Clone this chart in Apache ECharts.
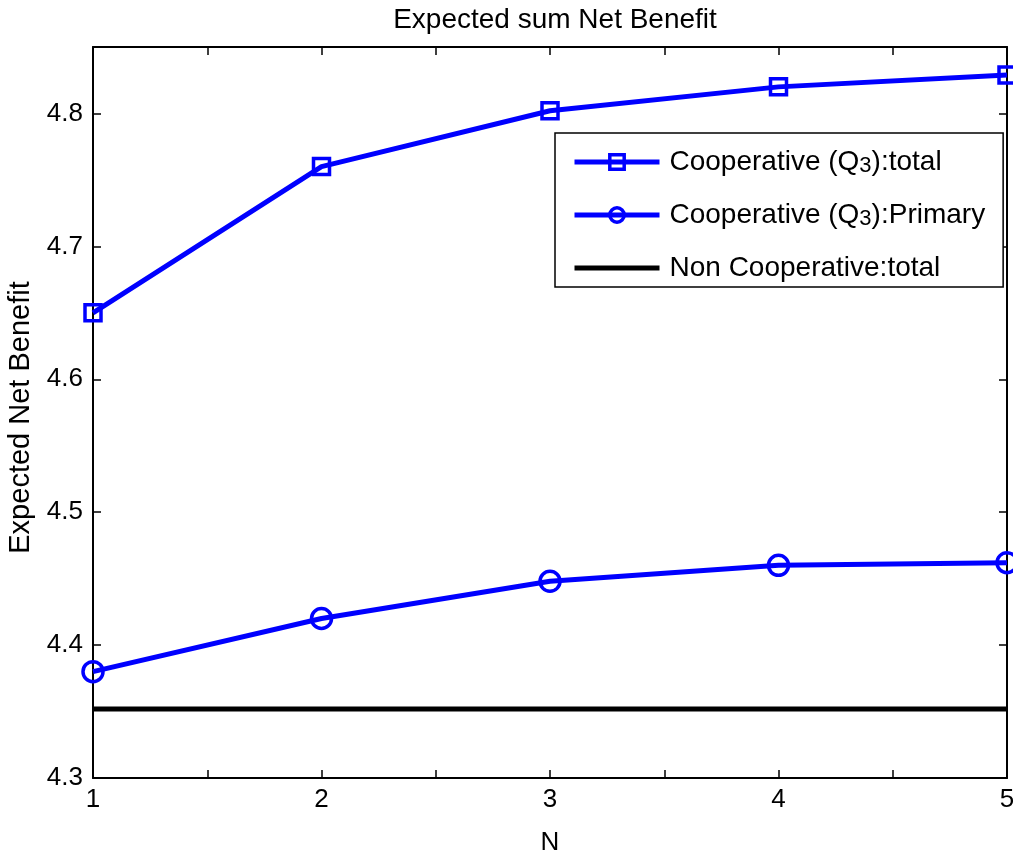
<!DOCTYPE html>
<html>
<head>
<meta charset="utf-8">
<script src="https://cdn.jsdelivr.net/npm/echarts@6/dist/echarts.min.js"></script>
<style>html,body{margin:0;padding:0;background:#fff;}#c{width:1013px;height:858px;}</style>
</head>
<body>
<div id="c"></div>
<script>
const nValues = [1, 2, 3, 4, 5];
const coopTotal = [4.650, 4.760, 4.802, 4.820, 4.829];
const coopPrimary = [4.380, 4.420, 4.448, 4.460, 4.462];
const nonCoopTotal = [4.352, 4.352, 4.352, 4.352, 4.352];
const seriesNames = ['Cooperative (Q3):total', 'Cooperative (Q3):Primary', 'Non Cooperative:total'];

const font = 'Liberation Sans, Arial, Helvetica, sans-serif';
const chart = echarts.init(document.getElementById('c'));
const pair = (ys) => nValues.map((x, i) => [x, ys[i]]);
const axisCommon = {
  axisLine: { show: true, lineStyle: { color: '#000', width: 2 } },
  axisTick: { show: true, inside: true, length: 8, lineStyle: { color: '#000', width: 1.5 } },
  splitLine: { show: false }
};
const yFmt = v => Math.abs(v * 10 - Math.round(v * 10)) < 1e-6 ? v.toFixed(1) : '';
const xFmt = v => Math.abs(v - Math.round(v)) < 1e-6 ? String(Math.round(v)) : '';
const blue = '#0000ff';
const hollow = { color: 'rgba(255,255,255,0)', borderColor: blue, borderWidth: 3.5 };

chart.setOption({
  animation: false,
  backgroundColor: '#fff',
  title: {
    text: 'Expected sum Net Benefit', left: 550, top: 1, textAlign: 'center',
    textStyle: { fontFamily: font, fontSize: 28, fontWeight: 'normal', color: '#000' }
  },
  grid: { left: 93, right: 6, top: 47, bottom: 80, outerBoundsMode: 'none', containLabel: false },
  legend: {
    orient: 'vertical', left: 555, top: 133,
    itemWidth: 85, itemHeight: 18, itemGap: 24,
    padding: [15, 18, 5, 17],
    borderColor: '#000', borderWidth: 1.5, backgroundColor: '#fff',
    data: [
      { name: seriesNames[0], itemStyle: hollow, lineStyle: { color: blue, width: 5 } },
      { name: seriesNames[1], itemStyle: hollow, lineStyle: { color: blue, width: 5 } },
      { name: seriesNames[2], itemStyle: { color: 'rgba(0,0,0,0)', borderWidth: 0 }, lineStyle: { color: '#000', width: 5 } }
    ],
    formatter: name => {
      if (name.indexOf('Q3') >= 0) {
        const parts = name.split('Q3');
        return '{a|' + parts[0] + 'Q}{s|3}{b|' + parts[1] + '}';
      }
      return '{a|' + name + '}';
    },
    textStyle: {
      color: '#000', fontFamily: font, fontSize: 28,
      rich: {
        a: { fontFamily: font, fontSize: 28, color: '#000', lineHeight: 30, padding: [0, 0, 0, 5] },
        b: { fontFamily: font, fontSize: 28, color: '#000', lineHeight: 30 },
        s: { fontFamily: font, fontSize: 22, color: '#000', lineHeight: 16, verticalAlign: 'bottom' }
      }
    }
  },
  xAxis: [
    Object.assign({}, axisCommon, {
      type: 'value', min: 1, max: 5, interval: 0.5, position: 'bottom',
      name: 'N', nameLocation: 'middle', nameGap: 52,
      nameTextStyle: { fontFamily: font, fontSize: 26, color: '#000' },
      axisLabel: { formatter: xFmt, fontFamily: font, fontSize: 26, color: '#000', margin: 9 }
    }),
    Object.assign({}, axisCommon, {
      type: 'value', min: 1, max: 5, interval: 0.5, position: 'top',
      axisLabel: { show: false }
    })
  ],
  yAxis: [
    Object.assign({}, axisCommon, {
      type: 'value', min: 4.3, max: 4.85, interval: 0.1, position: 'left',
      name: 'Expected Net Benefit', nameLocation: 'middle', nameGap: 58, nameRotate: 90,
      nameTextStyle: { fontFamily: font, fontSize: 29, color: '#000', padding: [0, 10, 0, 0] },
      axisLabel: { formatter: yFmt, fontFamily: font, fontSize: 26, color: '#000', margin: 10 }
    }),
    Object.assign({}, axisCommon, {
      type: 'value', min: 4.3, max: 4.85, interval: 0.1, position: 'right',
      axisLabel: { show: false }
    })
  ],
  series: [
    {
      name: seriesNames[0], type: 'line', data: pair(coopTotal),
      symbol: 'rect', symbolSize: 16, showSymbol: true,
      lineStyle: { color: blue, width: 5 },
      itemStyle: hollow,
      clip: false, z: 3
    },
    {
      name: seriesNames[1], type: 'line', data: pair(coopPrimary),
      symbol: 'circle', symbolSize: 20, showSymbol: true,
      lineStyle: { color: blue, width: 5 },
      itemStyle: hollow,
      clip: false, z: 3
    },
    {
      name: seriesNames[2], type: 'line', data: pair(nonCoopTotal),
      symbol: 'none', showSymbol: false,
      lineStyle: { color: '#000', width: 5 },
      itemStyle: { color: '#000' }, z: 2
    }
  ]
});
</script>
</body>
</html>
